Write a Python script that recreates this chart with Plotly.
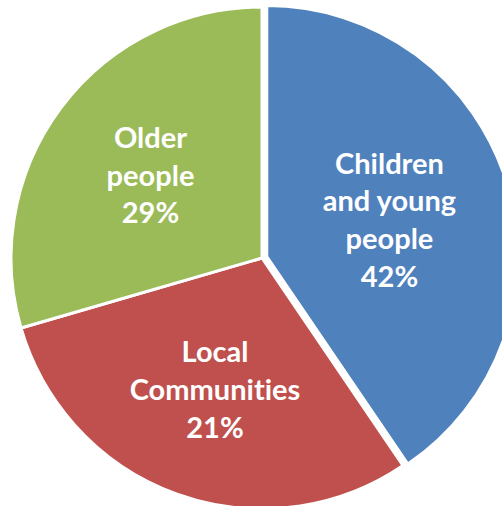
import plotly.graph_objects as go

categories = ["Children and young people", "Local Communities", "Older people"]
label_lines = ["Children<br>and young<br>people", "Local<br>Communit\u200cies", "Older<br>people"]
shown_pct = ["42%", "21%", "29%"]
slice_values = [40.5, 30.0, 29.5]
colors = ["#4F81BD", "#C0504D", "#9BBB59"]

W, H = 530, 520
cx, cy, r = 262, 258, 256

texts = [f"{a}<br>{b}" for a, b in zip(label_lines, shown_pct)]

fig = go.Figure(go.Pie(
    labels=categories,
    values=slice_values,
    text=texts,
    textinfo="text",
    textposition="inside",
    insidetextorientation="horizontal",
    sort=False,
    direction="clockwise",
    rotation=0,
    pull=[0.02, 0, 0],
    marker=dict(colors=colors, line=dict(color="white", width=3)),
    textfont=dict(family="Lato", size=29, color="white", weight="bold"),
    hoverinfo="label+percent",
    domain=dict(x=[(cx - r) / W, (cx + r) / W], y=[(H - cy - r) / H, (H - cy + r) / H]),
))

fig.update_layout(
    width=W, height=H,
    margin=dict(l=0, r=0, t=0, b=0),
    showlegend=False,
    paper_bgcolor="white",
    plot_bgcolor="white",
)

fig.write_html(
    "out.html",
    config={"displayModeBar": False},
    post_script="document.body.style.margin='0';document.body.style.overflow='hidden';document.documentElement.style.overflow='hidden';",
)
